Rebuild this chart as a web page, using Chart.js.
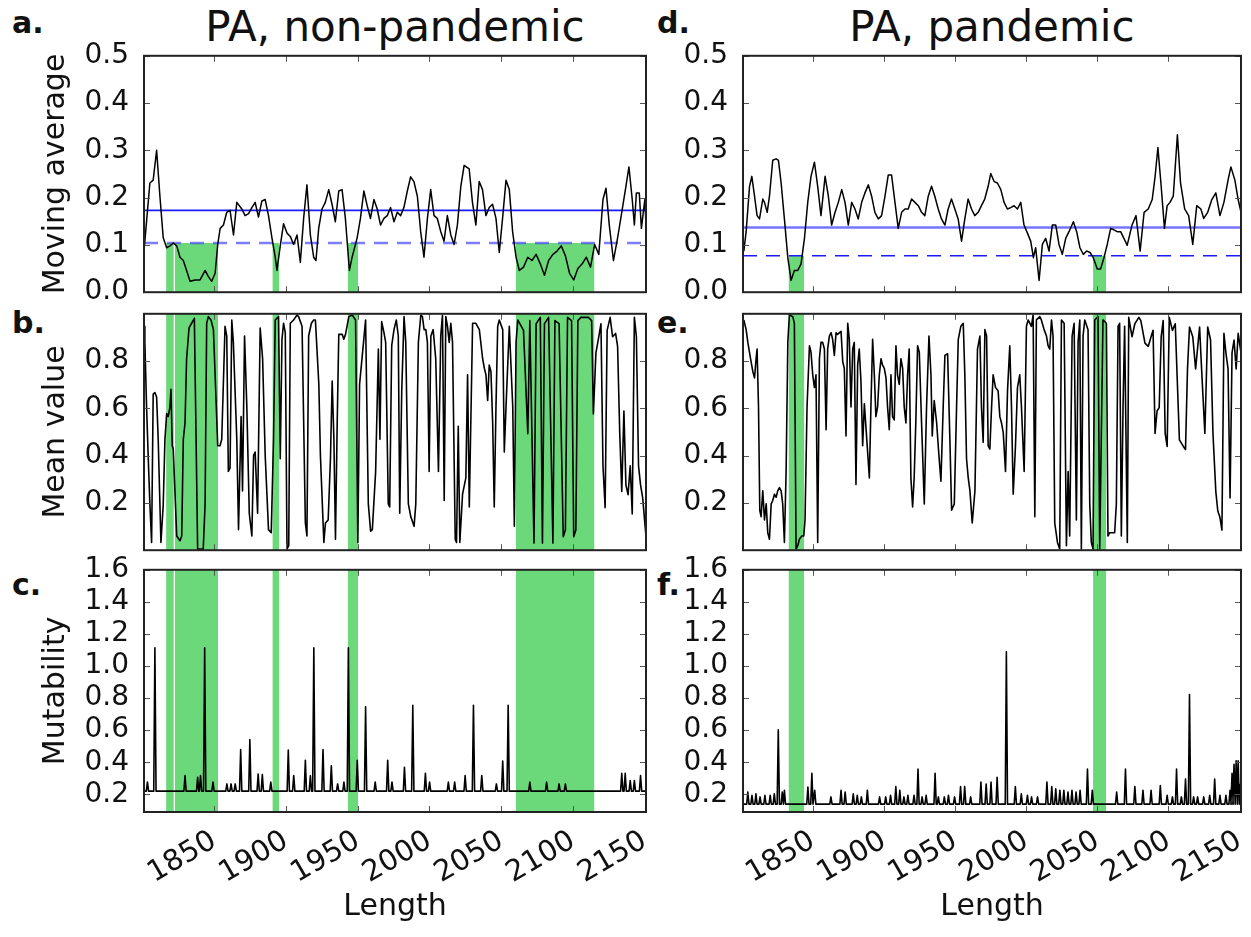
<!DOCTYPE html>
<html>
<head>
<meta charset="utf-8">
<script src="https://cdn.jsdelivr.net/npm/chart.js@4.4.1/dist/chart.umd.min.js"></script>
<style>
  body { margin: 0; background: #fff; width: 1251px; height: 937px; position: relative; overflow: hidden; font-family: "DejaVu Sans", sans-serif; color: #111; }
  canvas { position: absolute; }
  .title { position: absolute; text-align: center; font-size: 42px; line-height: 42px; white-space: nowrap; }
  .tag { position: absolute; font-weight: bold; font-size: 30px; line-height: 30px; }
</style>
</head>
<body>
<div class="title" style="left:144px;width:502px;top:6px">PA, non-pandemic</div>
<div class="title" style="left:743px;width:498px;top:6px">PA, pandemic</div>
<div class="tag" style="left:12px;top:8px">a.</div>
<div class="tag" style="left:12px;top:308px">b.</div>
<div class="tag" style="left:12px;top:570px">c.</div>
<div class="tag" style="left:657px;top:8px">d.</div>
<div class="tag" style="left:657px;top:308px">e.</div>
<div class="tag" style="left:657px;top:570px">f.</div>

<script>
// ---- data ----
const lengthTicks = [1850, 1900, 1950, 2000, 2050, 2100, 2150];
const maTicks = [0.0, 0.1, 0.2, 0.3, 0.4, 0.5];
const meanTicks = [0.2, 0.4, 0.6, 0.8];
const mutTicks = [0.2, 0.4, 0.6, 0.8, 1.0, 1.2, 1.4, 1.6];

// moving average, [length, value]
const maNonPandemic = [
  [1801,0.087],[1805.1,0.231],[1807.4,0.237],[1809.8,0.300],[1812.1,0.203],[1814.4,0.115],[1816.8,0.094],[1819.1,0.098],
  [1821.4,0.104],[1823.8,0.098],[1826.1,0.074],[1828.4,0.067],[1830.7,0.046],[1833.1,0.023],[1836.6,0.026],[1840.1,0.026],
  [1843.6,0.046],[1845.9,0.033],[1848.2,0.023],[1850.6,0.040],[1852.4,0.101],[1854.1,0.135],[1856.4,0.142],[1858.7,0.169],
  [1861.0,0.173],[1863.4,0.121],[1865.7,0.190],[1869.2,0.176],[1871.5,0.162],[1873.9,0.166],[1876.2,0.179],[1878.5,0.190],
  [1880.8,0.159],[1883.2,0.193],[1885.5,0.196],[1887.8,0.162],[1890.2,0.115],[1892.5,0.074],[1893.7,0.046],[1896.0,0.098],
  [1898.3,0.145],[1900.7,0.125],[1903.0,0.118],[1905.3,0.101],[1907.7,0.121],[1910.0,0.063],[1912.3,0.156],[1914.6,0.227],
  [1917.0,0.121],[1919.3,0.074],[1920.9,0.067],[1922.8,0.135],[1925.1,0.176],[1927.4,0.190],[1929.8,0.217],[1932.1,0.186],
  [1934.4,0.149],[1936.8,0.214],[1939.1,0.217],[1941.4,0.156],[1944.2,0.046],[1946.1,0.074],[1949.6,0.115],[1951.9,0.156],
  [1954.3,0.214],[1956.6,0.183],[1958.9,0.156],[1961.3,0.196],[1963.6,0.176],[1965.9,0.142],[1968.3,0.156],[1970.6,0.162],
  [1972.9,0.179],[1975.3,0.149],[1977.6,0.169],[1979.9,0.162],[1982.2,0.179],[1984.6,0.214],[1986.9,0.244],[1989.2,0.234],
  [1991.6,0.203],[1993.9,0.128],[1996.2,0.074],[1998.6,0.156],[2000.9,0.217],[2003.2,0.162],[2005.5,0.156],[2007.9,0.128],
  [2010.2,0.108],[2012.5,0.162],[2014.9,0.121],[2017.2,0.101],[2019.5,0.142],[2021.9,0.224],[2024.2,0.268],[2027.7,0.261],
  [2030.0,0.190],[2032.4,0.142],[2034.7,0.234],[2037.0,0.217],[2039.4,0.162],[2041.7,0.179],[2044.0,0.186],[2046.4,0.156],
  [2048.7,0.084],[2051.0,0.156],[2053.4,0.237],[2055.7,0.217],[2058.0,0.128],[2060.4,0.074],[2062.7,0.046],[2065.6,0.053],
  [2068.6,0.074],[2071.5,0.067],[2074.4,0.080],[2077.3,0.060],[2080.2,0.036],[2083.1,0.067],[2086.1,0.080],[2089.0,0.087],
  [2091.9,0.098],[2094.8,0.077],[2097.7,0.040],[2100.6,0.026],[2103.5,0.050],[2106.5,0.060],[2109.4,0.074],[2112.3,0.053],
  [2115.2,0.101],[2118.1,0.080],[2121.0,0.196],[2123.1,0.220],[2125.4,0.142],[2128.3,0.067],[2131.2,0.115],[2134.1,0.169],
  [2137.0,0.224],[2139.1,0.265],[2141.4,0.196],[2142.9,0.142],[2144.3,0.210],[2146.3,0.210],[2147.8,0.135],[2150.2,0.196],
  [2151,0.142]
];
const maPandemic = [
  [1801.6,0.087],[1803.2,0.128],[1805.6,0.224],[1807.2,0.245],[1809.1,0.203],[1810.9,0.162],[1812.6,0.155],[1814.9,0.197],
  [1816.1,0.190],[1818.0,0.169],[1819.6,0.203],[1821.9,0.279],[1824.3,0.282],[1825.9,0.279],[1827.8,0.231],[1830.1,0.155],
  [1832.5,0.073],[1834.8,0.025],[1837.1,0.046],[1839.5,0.046],[1841.8,0.060],[1844.2,0.114],[1846.5,0.190],[1848.8,0.245],
  [1851.2,0.275],[1853.5,0.224],[1855.8,0.162],[1858.7,0.245],[1861.0,0.203],[1863.3,0.142],[1865.7,0.169],[1868.0,0.190],
  [1870.4,0.217],[1872.7,0.190],[1875.0,0.142],[1877.4,0.190],[1879.7,0.176],[1882.0,0.155],[1884.4,0.190],[1886.7,0.210],
  [1889.1,0.227],[1891.4,0.203],[1893.7,0.169],[1896.1,0.155],[1898.4,0.162],[1900.8,0.203],[1903.1,0.248],[1905.4,0.248],
  [1907.8,0.190],[1910.1,0.135],[1912.5,0.169],[1914.8,0.176],[1917.1,0.176],[1919.5,0.197],[1921.8,0.190],[1924.2,0.183],
  [1926.5,0.169],[1928.8,0.162],[1931.2,0.203],[1933.5,0.224],[1935.8,0.203],[1938.2,0.176],[1940.5,0.155],[1942.9,0.142],
  [1945.2,0.176],[1947.5,0.197],[1949.9,0.176],[1952.2,0.155],[1954.6,0.108],[1956.9,0.155],[1959.2,0.197],[1961.6,0.176],
  [1963.9,0.162],[1966.3,0.169],[1968.6,0.183],[1970.9,0.197],[1973.3,0.224],[1975.1,0.251],[1977.5,0.234],[1979.8,0.231],
  [1982.2,0.217],[1984.5,0.190],[1986.8,0.176],[1989.2,0.179],[1991.5,0.183],[1993.9,0.176],[1996.2,0.190],[1998.5,0.142],
  [2000.9,0.125],[2003.2,0.108],[2005.1,0.073],[2006.7,0.094],[2009.1,0.025],[2011.4,0.101],[2013.7,0.114],[2016.1,0.087],
  [2018.4,0.142],[2020.8,0.142],[2023.1,0.101],[2025.4,0.080],[2027.8,0.114],[2030.1,0.128],[2033.2,0.149],[2035.5,0.128],
  [2037.8,0.094],[2040.2,0.080],[2042.5,0.087],[2044.9,0.084],[2047.2,0.073],[2050.0,0.049],[2052.3,0.049],[2054.7,0.073],
  [2057.0,0.101],[2059.4,0.135],[2061.7,0.132],[2064.0,0.128],[2066.4,0.128],[2068.7,0.114],[2071.0,0.099],[2074.4,0.142],
  [2077.2,0.162],[2080.1,0.087],[2082.9,0.169],[2085.8,0.176],[2088.6,0.196],[2090.6,0.244],[2092.6,0.306],[2094.9,0.224],
  [2097.2,0.135],[2099.1,0.183],[2101.1,0.190],[2103.4,0.203],[2106.3,0.333],[2108.5,0.231],[2111.4,0.176],[2114.2,0.162],
  [2117.1,0.101],[2119.9,0.183],[2122.8,0.176],[2124.8,0.156],[2127.6,0.169],[2130.5,0.196],[2133.3,0.210],[2136.2,0.162],
  [2139.0,0.190],[2141.9,0.237],[2143.9,0.265],[2146.7,0.237],[2149.0,0.196],[2151,0.169]
];

// mean value, [length, value]
const meanNonPandemic = [
  [1801,0.947],[1801.6,0.879],[1802.8,0.606],[1803.9,0.401],[1805.1,0.196],[1806.3,0.033],[1807.4,0.660],[1808.6,0.667],
  [1809.8,0.647],[1810.9,0.469],[1812.8,0.033],[1814.4,0.190],[1815.6,0.469],[1816.8,0.578],[1817.9,0.565],[1819.1,0.606],
  [1819.8,0.681],[1820.7,0.442],[1821.4,0.428],[1823.8,0.060],[1826.1,0.040],[1827.3,0.060],[1828.4,0.469],[1829.6,0.538],
  [1830.7,0.810],[1832.4,0.940],[1834.2,0.960],[1836.1,0.981],[1837.0,0.606],[1838.4,0.005],[1840.0,0.005],[1842.3,0.005],
  [1843.6,0.196],[1844.7,0.960],[1845.9,0.988],[1847.7,0.974],[1849.4,0.933],[1851.0,0.674],[1852.4,0.442],[1854.0,0.442],
  [1855.2,0.469],[1857.5,0.947],[1858.7,0.906],[1859.8,0.333],[1861.0,0.347],[1862.2,0.974],[1863.3,0.879],[1865.7,0.469],
  [1866.9,0.087],[1868.7,0.565],[1869.7,0.251],[1871.1,0.906],[1872.7,0.606],[1874.4,0.156],[1876.2,0.060],[1877.4,0.401],
  [1878.5,0.415],[1880.2,0.156],[1882.0,0.940],[1883.7,0.810],[1885.5,0.401],[1887.8,0.087],[1889.7,0.074],[1891.3,0.469],
  [1892.5,0.974],[1894.8,0.988],[1896.0,0.387],[1897.2,0.892],[1898.3,0.960],[1899.5,0.920],[1900.7,0.005],[1901.9,0.019],
  [1903.0,0.960],[1905.3,0.974],[1907.7,0.995],[1908.8,0.988],[1911.2,0.947],[1913.5,0.115],[1914.6,0.060],[1915.8,0.906],
  [1917.7,0.960],[1919.3,0.974],[1920.5,0.974],[1922.9,0.701],[1924.0,0.401],[1926.4,0.033],[1927.5,0.115],[1929.4,0.128],
  [1931.0,0.387],[1932.2,0.715],[1933.4,0.469],[1934.5,0.046],[1935.7,0.538],[1936.8,0.913],[1939.2,0.913],[1940.3,0.892],
  [1941.5,0.913],[1943.8,0.988],[1946.2,0.995],[1948.5,0.974],[1950.1,0.033],[1951.3,0.701],[1953.2,0.824],[1955.5,0.974],
  [1957.4,0.196],[1959.0,0.080],[1960.2,0.087],[1962.5,0.333],[1964.4,0.851],[1965.5,0.469],[1966.7,0.967],[1968.3,0.920],
  [1969.5,0.879],[1971.3,0.196],[1972.3,0.183],[1973.7,0.865],[1975.3,0.933],[1976.9,0.974],[1978.3,0.906],[1979.3,0.156],
  [1980.7,0.674],[1982.3,0.988],[1983.5,0.879],[1985.3,0.196],[1987.0,0.142],[1989.3,0.101],[1990.5,0.196],[1992.3,0.879],
  [1994.0,0.995],[1995.1,0.988],[1996.3,0.933],[1997.5,0.933],[1998.6,0.879],[1999.8,0.333],[2001.0,0.906],[2002.6,0.933],
  [2004.4,0.810],[2006.3,0.333],[2007.9,0.906],[2009.1,0.995],[2010.3,0.210],[2011.4,0.988],[2012.6,0.947],[2013.8,0.879],
  [2014.9,0.960],[2016.1,0.879],[2018.0,0.046],[2018.9,0.033],[2020.1,0.524],[2021.2,0.033],[2023.1,0.237],[2025.4,0.306],
  [2026.6,0.742],[2027.8,0.183],[2030.1,0.960],[2032.4,0.960],[2034.8,0.933],[2037.1,0.810],[2038.3,0.769],[2039.4,0.742],
  [2040.6,0.633],[2041.7,0.783],[2042.9,0.756],[2044.1,0.538],[2045.2,0.183],[2046.4,0.606],[2047.6,0.947],[2048.7,0.974],
  [2051.1,0.933],[2052.2,0.415],[2053.4,0.606],[2055.7,0.947],[2058.1,0.606],[2059.2,0.101],[2060.4,0.879],[2061.6,0.974],
  [2065.6,0.930],[2068.6,0.493],[2070.0,0.971],[2072.9,0.030],[2074.4,0.958],[2077.3,0.985],[2078.8,0.030],[2080.2,0.958],
  [2083.1,0.985],[2086.1,0.030],[2087.5,0.971],[2090.4,0.958],[2093.3,0.057],[2094.8,0.085],[2096.3,0.985],[2099.1,0.971],
  [2100.6,0.057],[2102.1,0.085],[2103.5,0.971],[2105.6,0.985],[2107.9,0.985],[2110.8,0.985],[2113.1,0.971],[2114.3,0.576],
  [2116.1,0.835],[2118.1,0.903],[2119.6,0.958],[2121.0,0.357],[2122.5,0.180],[2123.9,0.930],[2126.0,0.985],[2127.7,0.903],
  [2129.8,0.917],[2131.2,0.862],[2132.7,0.494],[2134.1,0.248],[2135.6,0.589],[2137.0,0.276],[2138.5,0.235],[2140.0,0.357],
  [2141.4,0.153],[2142.9,0.985],[2144.3,0.903],[2145.8,0.357],[2147.2,0.276],[2148.7,0.221],[2151.0,0.057]
];
const meanPandemic = [
  [1801.6,0.974],[1803.2,0.933],[1804.4,0.879],[1806.3,0.810],[1807.9,0.756],[1809.1,0.729],[1810.2,0.810],[1810.9,0.851],
  [1811.9,0.606],[1812.8,0.169],[1813.7,0.142],[1814.9,0.251],[1816.1,0.128],[1817.3,0.196],[1818.4,0.074],[1819.6,0.046],
  [1820.8,0.196],[1821.9,0.210],[1823.1,0.237],[1824.3,0.224],[1825.4,0.251],[1826.6,0.265],[1827.8,0.251],[1828.9,0.196],
  [1830.1,0.033],[1831.3,0.333],[1832.5,0.879],[1833.6,0.995],[1836.0,0.988],[1837.1,0.960],[1838.3,0.005],[1839.5,0.019],
  [1840.6,0.046],[1842.3,0.060],[1843.7,0.060],[1844.6,0.128],[1846.0,0.606],[1847.7,0.865],[1848.8,0.838],[1850.0,0.742],
  [1851.2,0.688],[1852.3,0.742],[1853.5,0.033],[1854.7,0.810],[1855.8,0.879],[1857.0,0.879],[1858.2,0.851],[1859.4,0.510],
  [1860.5,0.851],[1861.7,0.906],[1862.9,0.920],[1864.0,0.892],[1865.2,0.824],[1866.4,0.920],[1867.5,0.913],[1869.9,0.926],
  [1871.1,0.797],[1872.2,0.769],[1873.4,0.483],[1874.6,0.960],[1875.7,0.892],[1876.9,0.606],[1878.1,0.851],[1879.2,0.879],
  [1880.4,0.278],[1881.6,0.783],[1882.7,0.851],[1883.9,0.715],[1885.1,0.442],[1886.3,0.619],[1888.6,0.415],[1889.8,0.306],
  [1890.9,0.606],[1892.1,0.892],[1893.3,0.742],[1894.4,0.565],[1895.6,0.606],[1896.8,0.742],[1898.0,0.810],[1899.1,0.783],
  [1900.3,0.769],[1901.5,0.729],[1902.6,0.606],[1903.8,0.510],[1905.0,0.742],[1906.1,0.565],[1907.3,0.551],[1908.5,0.865],
  [1909.6,0.742],[1910.8,0.701],[1912.0,0.810],[1913.2,0.769],[1914.3,0.606],[1915.5,0.538],[1916.7,0.742],[1917.8,0.851],
  [1919.0,0.306],[1920.2,0.183],[1921.3,0.306],[1922.5,0.551],[1923.7,0.865],[1924.9,0.838],[1926.5,0.538],[1928.4,0.196],
  [1930.0,0.606],[1931.7,0.906],[1933.1,0.742],[1934.0,0.483],[1935.4,0.633],[1937.1,0.538],[1938.7,0.401],[1940.1,0.292],
  [1941.7,0.606],[1942.9,0.824],[1944.8,0.831],[1946.4,0.469],[1947.6,0.169],[1949.5,0.196],[1951.1,0.606],[1952.3,0.892],
  [1954.1,0.947],[1955.8,0.960],[1956.9,0.742],[1958.1,0.387],[1959.3,0.306],[1960.5,0.251],[1962.1,0.115],[1964.0,0.251],
  [1965.8,0.851],[1967.5,0.906],[1968.6,0.606],[1969.8,0.456],[1971.0,0.933],[1972.2,0.906],[1973.3,0.442],[1974.5,0.428],
  [1975.7,0.606],[1976.8,0.742],[1978.5,0.688],[1980.3,0.674],[1981.5,0.565],[1982.7,0.538],[1983.9,0.497],[1985.5,0.333],
  [1986.9,0.674],[1988.5,0.865],[1989.7,0.606],[1990.9,0.237],[1992.5,0.442],[1993.9,0.688],[1995.5,0.742],[1996.7,0.606],
  [1998.6,0.333],[2000.2,0.947],[2001.4,0.974],[2003.7,0.947],[2004.9,0.995],[2006.1,0.142],[2007.2,0.974],[2009.6,0.988],
  [2010.7,0.974],[2012.6,0.933],[2014.3,0.906],[2015.4,0.865],[2016.6,0.851],[2017.8,0.974],[2018.9,0.906],[2020.1,0.115],
  [2022.0,0.033],[2023.6,0.005],[2024.8,0.974],[2026.7,0.960],[2028.3,0.019],[2029.5,0.333],[2030.6,0.060],[2032.3,0.906],
  [2033.7,0.960],[2035.3,0.128],[2036.5,0.879],[2037.7,0.974],[2038.8,0.005],[2040.0,0.906],[2041.2,0.974],[2043.5,0.933],
  [2044.7,0.196],[2045.8,0.033],[2047.0,0.005],[2048.2,0.974],[2050.5,0.988],[2051.7,0.005],[2054.0,0.974],[2056.4,0.960],
  [2057.5,0.060],[2058.7,0.074],[2059.9,0.074],[2062.2,0.074],[2063.4,0.196],[2064.6,0.947],[2065.7,0.960],[2066.9,0.060],
  [2068.1,0.606],[2069.2,0.947],[2071.1,0.033],[2072.1,0.985],[2074.4,0.903],[2076.4,0.958],[2079.2,0.985],[2080.6,0.971],
  [2083.5,0.876],[2085.8,0.862],[2087.8,0.903],[2089.2,0.930],[2090.6,0.494],[2092.0,0.589],[2093.5,0.603],[2094.9,0.903],
  [2096.3,0.971],[2097.7,0.494],[2099.1,0.439],[2100.6,0.985],[2102.8,0.930],[2104.8,0.958],[2107.7,0.467],[2109.1,0.453],
  [2110.5,0.439],[2112.0,0.426],[2113.4,0.767],[2114.8,0.944],[2117.1,0.903],[2119.1,0.767],[2121.9,0.944],[2123.3,0.767],
  [2125.6,0.494],[2127.6,0.944],[2129.6,0.889],[2131.3,0.494],[2133.3,0.248],[2134.7,0.166],[2136.2,0.139],[2137.6,0.085],
  [2139.0,0.917],[2140.4,0.835],[2141.9,0.767],[2143.3,0.221],[2144.7,0.835],[2146.1,0.889],[2147.6,0.767],[2149.0,0.917],
  [2151.0,0.835]
];

// mutability: flat base level with narrow peaks, [length, peak]
const mutBaseNonPandemic = 0.22;
const mutPeaksNonPandemic = [
  [1803.4,0.276],[1808.6,1.114],[1829.6,0.317],[1838.4,0.306],[1840.4,0.317],[1843.3,1.114],[1849.1,0.276],[1858.8,0.265],
  [1861.7,0.265],[1864.6,0.265],[1868.4,0.480],[1874.8,0.541],[1880.6,0.327],[1883.5,0.323],[1889.4,0.276],[1901.6,0.476],
  [1905.4,0.317],[1913.5,0.413],[1917.0,0.317],[1919.4,1.114],[1925.8,0.480],[1931.6,0.378],[1936.0,0.265],[1940.4,0.276],
  [1943.5,1.114],[1949.7,0.413],[1955.5,0.746],[1962.2,0.276],[1970.9,0.413],[1973.9,0.276],[1982.6,0.368],[1988.4,0.756],
  [1997.2,0.331],[2000.1,0.276],[2013.2,0.276],[2017.6,0.276],[2024.9,0.317],[2030.7,0.756],[2036.5,0.317],[2046.7,0.265],
  [2051.1,0.408],[2054.9,0.756],[2070.0,0.276],[2081.7,0.276],[2090.4,0.265],[2094.8,0.265],[2134.1,0.331],[2136.5,0.331],
  [2140.0,0.286],[2142.9,0.286],[2147.2,0.317]
];
const mutBasePandemic = 0.139;
const mutPeaksPandemic = [
  [1804.4,0.214],[1807.3,0.194],[1810.1,0.204],[1813.0,0.184],[1816.4,0.194],[1820.1,0.194],[1823.0,0.204],[1825.8,0.603],
  [1828.6,0.214],[1830.1,0.225],[1846.6,0.245],[1849.4,0.331],[1851.4,0.225],[1862.8,0.184],[1869.9,0.225],[1872.8,0.214],
  [1878.5,0.204],[1881.3,0.194],[1884.2,0.184],[1888.4,0.225],[1897.0,0.184],[1901.3,0.184],[1904.7,0.194],[1908.4,0.249],
  [1911.2,0.225],[1914.1,0.184],[1916.9,0.194],[1921.2,0.194],[1924.0,0.357],[1926.9,0.184],[1929.7,0.194],[1936.0,0.331],
  [1938.3,0.184],[1942.5,0.184],[1945.4,0.194],[1949.7,0.184],[1953.9,0.249],[1956.8,0.249],[1961.0,0.184],[1968.2,0.276],
  [1971.9,0.265],[1975.3,0.276],[1979.6,0.306],[1986.1,1.089],[1992.4,0.249],[1996.6,0.204],[2000.9,0.194],[2003.8,0.184],
  [2008.0,0.184],[2014.6,0.276],[2018.0,0.249],[2020.8,0.235],[2023.7,0.225],[2026.5,0.225],[2029.4,0.214],[2032.2,0.225],
  [2035.1,0.214],[2037.9,0.225],[2043.1,0.357],[2046.5,0.225],[2063.6,0.214],[2069.8,0.357],[2076.4,0.249],[2082.1,0.225],
  [2087.8,0.225],[2094.3,0.255],[2099.1,0.194],[2102.8,0.184],[2105.7,0.357],[2109.1,0.184],[2112.0,0.296],[2114.8,0.823],
  [2117.7,0.184],[2120.5,0.184],[2124.8,0.184],[2129.0,0.194],[2132.5,0.296],[2136.2,0.194],[2140.4,0.194],[2143.3,0.225],
  [2144.7,0.331],[2146.1,0.388],[2147.6,0.409],[2149.0,0.409],[2150.6,0.265]
];

// thresholds (solid = mean level, dashed = cut-off) and shaded regions
const meanLevelNonPandemic = 0.173;
const cutoffNonPandemic = 0.104;
const meanLevelPandemic = 0.137;
const cutoffPandemic = 0.077;
const bandsNonPandemic = [[1816.4, 1821.8], [1822.6, 1852.6], [1890.5, 1895.3], [1943.0, 1950.3], [2060.2, 2115.1]];
const bandsPandemic = [[1833.0, 1844.0], [2047.0, 2056.2]];

// ---- layout / style ----
const X_MIN = 1801, X_MAX = 2151;
const FONT = "'DejaVu Sans', sans-serif";
const GREEN = "#6bd97a";
const INK = "#111";
const PT = 20, PR = 22, PB = 20, XH = 113;

const COLS = {
  left:  { plotL: 144, plotW: 502, yw: 106 },
  right: { plotL: 743, plotW: 498, yw: 60 }
};
const ROWS = {
  top:    { plotT: 52,  plotH: 244 },
  middle: { plotT: 310, plotH: 244 },
  bottom: { plotT: 566, plotH: 246 }
};

const innerTicks = {
  id: "innerTicks",
  afterDatasetsDraw(chart, args, opts) {
    const { ctx, chartArea: { left, right, top, bottom } } = chart;
    const x = chart.scales.x, y = chart.scales.y;
    ctx.save();
    ctx.strokeStyle = "#555";
    ctx.lineWidth = 1;
    ctx.beginPath();
    (opts.xt || []).forEach(v => {
      const px = Math.round(x.getPixelForValue(v)) + 0.5;
      ctx.moveTo(px, bottom); ctx.lineTo(px, bottom - 6);
      ctx.moveTo(px, top); ctx.lineTo(px, top + 6);
    });
    (opts.yt || []).forEach(v => {
      const py = Math.round(y.getPixelForValue(v)) + 0.5;
      ctx.moveTo(left, py); ctx.lineTo(left + 6, py);
      ctx.moveTo(right, py); ctx.lineTo(right - 6, py);
    });
    ctx.stroke();
    ctx.strokeStyle = "#222";
    ctx.lineWidth = 2;
    ctx.strokeRect(left, top, right - left, bottom - top);
    ctx.restore();
  }
};

function toXY(pairs) {
  return pairs.map(([x, y]) => ({ x, y }));
}

function spikesToXY(base, peaks) {
  const pts = [{ x: X_MIN, y: base }];
  peaks.forEach(([x, p]) => {
    pts.push({ x: x - 0.8, y: base }, { x, y: p }, { x: x + 0.8, y: base });
  });
  pts.push({ x: X_MAX, y: base });
  return pts;
}

function bandSets(bands, topValue) {
  return bands.map(([x0, x1]) => ({
    data: [{ x: x0, y: topValue }, { x: x1, y: topValue }],
    fill: "start",
    backgroundColor: GREEN,
    borderWidth: 0,
    pointRadius: 0,
    order: 3
  }));
}

function hline(value, color, width, dash) {
  return {
    data: [{ x: X_MIN, y: value }, { x: X_MAX, y: value }],
    borderColor: color,
    borderWidth: width,
    borderDash: dash || [],
    pointRadius: 0,
    fill: false,
    order: 2
  };
}

function seriesLine(points, width) {
  return {
    data: points,
    borderColor: "#000",
    borderWidth: width,
    borderJoinStyle: "round",
    pointRadius: 0,
    fill: false,
    tension: 0,
    order: 1
  };
}

function makePanel(colKey, rowKey, cfg) {
  const col = COLS[colKey], row = ROWS[rowKey];
  const isBottom = rowKey === "bottom";
  const cv = document.createElement("canvas");
  const w = col.yw + col.plotW + PR;
  const h = PT + row.plotH + (isBottom ? XH : PB);
  cv.width = w; cv.height = h;
  cv.style.left = (col.plotL - col.yw) + "px";
  cv.style.top = (row.plotT - PT) + "px";
  cv.style.width = w + "px"; cv.style.height = h + "px";
  document.body.appendChild(cv);

  return new Chart(cv, {
    type: "line",
    data: { datasets: cfg.datasets },
    plugins: [innerTicks],
    options: {
      responsive: false,
      animation: false,
      events: [],
      layout: { padding: { left: 0, top: PT, right: PR, bottom: isBottom ? 0 : PB } },
      plugins: {
        legend: { display: false },
        tooltip: { enabled: false },
        innerTicks: { xt: lengthTicks, yt: cfg.yTicks }
      },
      scales: {
        x: {
          type: "linear",
          min: X_MIN, max: X_MAX,
          display: isBottom,
          grid: { display: false },
          border: { display: false },
          afterBuildTicks: s => { s.ticks = lengthTicks.map(v => ({ value: v })); },
          afterFit: s => { if (isBottom) s.height = XH; },
          ticks: {
            autoSkip: false, maxRotation: 30, minRotation: 30, padding: 4,
            color: INK, font: { family: FONT, size: 29 },
            callback: v => String(v)
          },
          title: { display: isBottom, text: "Length", color: INK, padding: 0, font: { family: FONT, size: 30 } }
        },
        y: {
          type: "linear",
          min: cfg.yMin, max: cfg.yMax,
          grid: { display: false },
          border: { display: false },
          afterBuildTicks: s => { s.ticks = cfg.yTicks.map(v => ({ value: v })); },
          afterFit: s => { s.width = col.yw; },
          ticks: { autoSkip: false, padding: 7, color: INK, font: { family: FONT, size: 28 }, callback: v => v.toFixed(1) },
          title: { display: !!cfg.yTitle, text: cfg.yTitle || "", color: INK, padding: 0, font: { family: FONT, size: 30 } }
        }
      }
    }
  });
}

// a. moving average, non-pandemic
makePanel("left", "top", {
  yMin: 0, yMax: 0.5, yTicks: maTicks, yTitle: "Moving average",
  datasets: [
    ...bandSets(bandsNonPandemic, cutoffNonPandemic),
    hline(meanLevelNonPandemic, "#1a1aff", 1.6),
    hline(cutoffNonPandemic, "rgba(70,70,255,0.7)", 2.6, [14, 9]),
    seriesLine(toXY(maNonPandemic), 1.5)
  ]
});
// b. mean value, non-pandemic
makePanel("left", "middle", {
  yMin: 0, yMax: 1, yTicks: meanTicks, yTitle: "Mean value",
  datasets: [...bandSets(bandsNonPandemic, 1), seriesLine(toXY(meanNonPandemic), 1.6)]
});
// c. mutability, non-pandemic
makePanel("left", "bottom", {
  yMin: 0.09, yMax: 1.6, yTicks: mutTicks, yTitle: "Mutability",
  datasets: [...bandSets(bandsNonPandemic, 1.6), seriesLine(spikesToXY(mutBaseNonPandemic, mutPeaksNonPandemic), 1.6)]
});
// d. moving average, pandemic
makePanel("right", "top", {
  yMin: 0, yMax: 0.5, yTicks: maTicks,
  datasets: [
    ...bandSets(bandsPandemic, cutoffPandemic),
    hline(meanLevelPandemic, "rgba(70,70,255,0.75)", 2.6),
    hline(cutoffPandemic, "#1a1aff", 1.6, [14, 9]),
    seriesLine(toXY(maPandemic), 1.5)
  ]
});
// e. mean value, pandemic
makePanel("right", "middle", {
  yMin: 0, yMax: 1, yTicks: meanTicks,
  datasets: [...bandSets(bandsPandemic, 1), seriesLine(toXY(meanPandemic), 1.6)]
});
// f. mutability, pandemic
makePanel("right", "bottom", {
  yMin: 0.09, yMax: 1.6, yTicks: mutTicks,
  datasets: [...bandSets(bandsPandemic, 1.6), seriesLine(spikesToXY(mutBasePandemic, mutPeaksPandemic), 1.6)]
});
</script>
</body>
</html>
